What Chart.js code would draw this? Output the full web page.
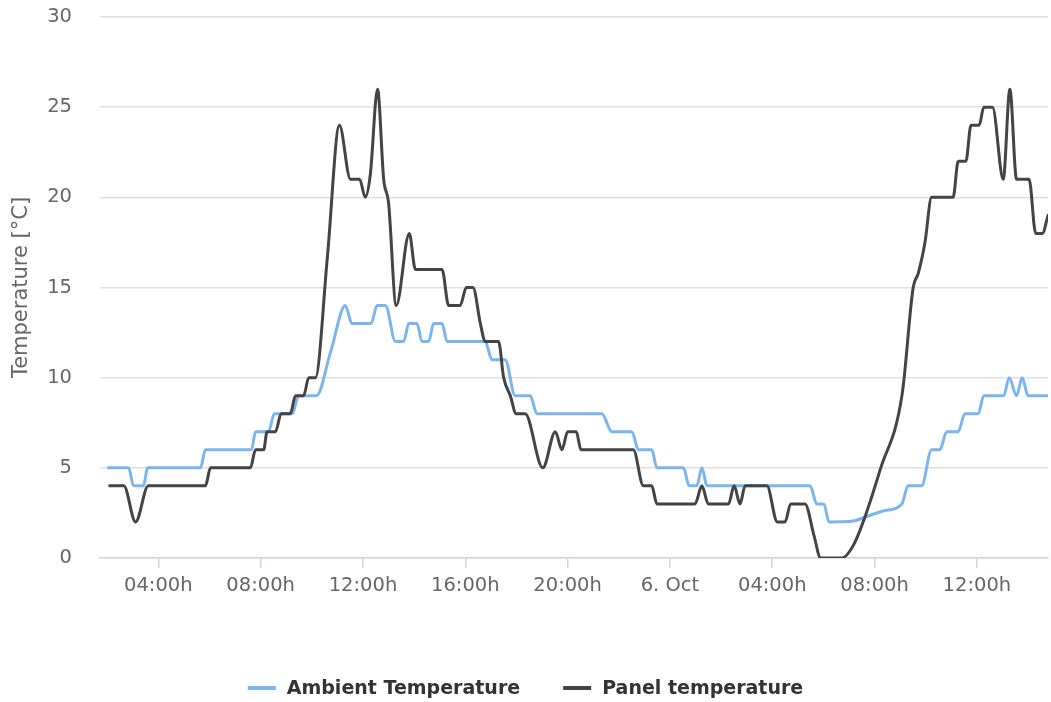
<!DOCTYPE html>
<html>
<head>
<meta charset="utf-8">
<title>Ambient and panel temperature</title>
<script src="https://cdn.jsdelivr.net/npm/chart.js@4.4.1/dist/chart.umd.min.js"></script>
<style>
  html, body { margin: 0; padding: 0; background: #fff; }
  #wrap { width: 1051px; height: 702px; position: relative; }
</style>
</head>
<body>
<div id="wrap"><canvas id="tempChart"></canvas></div>
<script>
// times are hours counted from 5 Oct 00:00
const ambientTimes = [2.05, 2.84, 3.03, 3.42, 3.58, 5.65, 5.84, 7.64, 7.80, 8.30,
  8.54, 9.24, 9.48, 10.18, 10.75, 11.31, 11.57, 12.32, 12.55, 12.88,
  13.27, 13.59, 13.79, 14.11, 14.31, 14.57, 14.76, 15.09, 15.29, 16.78,
  17.04, 17.56, 17.95, 18.54, 18.80, 21.34, 21.73, 22.51, 22.77, 23.29,
  23.49, 24.53, 24.75, 25.05, 25.25, 25.45, 29.48, 29.74, 30.02, 30.22,
  31.16, 31.69, 32.37, 33.07, 33.31, 33.84, 34.23, 34.55, 34.82, 35.27,
  35.53, 36.05, 36.27, 37.05, 37.26, 37.55, 37.77, 38.00, 38.78];
const ambientValues = [5, 5, 4, 4, 5, 5, 6, 6, 7, 7,
  8, 8, 9, 9, 11.5, 14, 13, 13, 14, 14,
  12, 12, 13, 13, 12, 12, 13, 13, 12, 12,
  11, 11, 9, 9, 8, 8, 7, 7, 6, 6,
  5, 5, 4, 4, 5, 4, 4, 3, 3, 2,
  2.05, 2.3, 2.62, 3, 4, 4, 6, 6, 7, 7,
  8, 8, 9, 9, 10, 9, 10, 9, 9];

const panelTimes = [2.10, 2.65, 3.11, 3.61, 5.84, 6.04, 7.60, 7.80, 8.12, 8.25,
  8.58, 8.80, 9.16, 9.36, 9.68, 9.88, 10.14, 10.61, 11.08, 11.51,
  11.87, 12.09, 12.29, 12.57, 12.81, 13.00, 13.30, 13.81, 14.05, 15.09,
  15.35, 15.80, 16.04, 16.30, 16.59, 16.78, 17.30, 17.50, 17.76, 17.99,
  18.34, 19.03, 19.52, 19.78, 20.00, 20.34, 20.52, 22.57, 22.96, 23.29,
  23.49, 24.98, 25.25, 25.50, 26.29, 26.51, 26.74, 26.94, 27.79, 28.20,
  28.50, 28.72, 29.28, 29.64, 29.89, 30.72, 31.17, 31.63, 32.22, 33.08,
  33.51, 33.71, 33.97, 34.23, 35.07, 35.27, 35.57, 35.77, 36.09, 36.27,
  36.61, 37.03, 37.29, 37.55, 38.04, 38.30, 38.56, 38.78];
const panelValues = [4, 4, 2, 4, 4, 5, 5, 6, 6, 7,
  7, 8, 8, 9, 9, 10, 10, 16.7, 24, 21,
  21, 20, 21.3, 26, 21, 19.7, 14, 18, 16, 16,
  14, 14, 15, 15, 13, 12, 12, 10, 9, 8,
  8, 5, 7, 6, 7, 7, 6, 6, 4, 4,
  3, 3, 4, 3, 3, 4, 3, 4, 4, 2,
  2, 3, 3, 1.2, 0, 0, 0.7, 2.3, 4.9, 9.1,
  15, 15.8, 17.5, 20, 20, 22, 22, 24, 24, 25,
  25, 21, 26, 21, 21, 18, 18, 19];

const xTickHours = [4, 8, 12, 16, 20, 24, 28, 32, 36];
const xTickLabels = ['04:00h', '08:00h', '12:00h', '16:00h', '20:00h', '6. Oct', '04:00h', '08:00h', '12:00h'];

function toPoints(times, values) {
  return times.map((t, i) => ({ x: t, y: values[i] }));
}

// series legend centred under the plot
const bottomLegend = {
  id: 'bottomLegend',
  afterDraw(chart) {
    const ctx = chart.ctx;
    const items = chart.data.datasets.map(ds => ({ text: ds.label, color: ds.borderColor }));
    const lineLen = 28, gap = 11, spacing = 43, y = 688;
    ctx.save();
    ctx.font = 'bold 19px "DejaVu Sans"';
    let total = 0;
    items.forEach((it, i) => {
      it.w = ctx.measureText(it.text).width;
      total += lineLen + gap + it.w + (i ? spacing : 0);
    });
    let x = (chart.width - total) / 2;
    items.forEach(it => {
      ctx.strokeStyle = it.color;
      ctx.lineWidth = 4;
      ctx.beginPath();
      ctx.moveTo(x, y);
      ctx.lineTo(x + lineLen, y);
      ctx.stroke();
      x += lineLen + gap;
      ctx.fillStyle = '#333333';
      ctx.textBaseline = 'alphabetic';
      ctx.fillText(it.text, x, y + 6);
      x += it.w + spacing;
    });
    ctx.restore();
  }
};

Chart.defaults.font.family = '"DejaVu Sans", sans-serif';

new Chart(document.getElementById('tempChart'), {
  type: 'line',
  data: {
    datasets: [
      {
        label: 'Ambient Temperature',
        data: toPoints(ambientTimes, ambientValues),
        borderColor: '#7cb5ec',
        backgroundColor: '#7cb5ec',
        borderWidth: 3,
        order: 1
      },
      {
        label: 'Panel temperature',
        data: toPoints(panelTimes, panelValues),
        borderColor: '#434348',
        backgroundColor: '#434348',
        borderWidth: 3,
        order: 0
      }
    ]
  },
  options: {
    responsive: true,
    maintainAspectRatio: false,
    animation: false,
    layout: { padding: { top: 17, right: 3, left: 0, bottom: 0 } },
    elements: {
      point: { radius: 0 },
      line: { cubicInterpolationMode: 'monotone', borderJoinStyle: 'round', borderCapStyle: 'round' }
    },
    plugins: {
      legend: { display: false },
      tooltip: { enabled: false }
    },
    scales: {
      x: {
        type: 'linear',
        min: 1.72,
        max: 38.78,
        afterFit: s => { s.height = 144; s.paddingLeft = 0; s.paddingRight = 0; },
        afterBuildTicks: s => { s.ticks = xTickHours.map(v => ({ value: v })); },
        grid: { drawOnChartArea: false, color: '#ccd6eb', tickLength: 10, lineWidth: 1.5 },
        border: { color: '#ccd6eb', width: 1.5 },
        ticks: {
          padding: 6,
          color: '#666666',
          font: { size: 19.5 },
          maxRotation: 0,
          autoSkip: false,
          callback: v => xTickLabels[xTickHours.indexOf(v)]
        }
      },
      y: {
        min: 0,
        max: 30,
        afterFit: s => { s.width = 100; s.paddingTop = 0; s.paddingBottom = 0; },
        ticks: { stepSize: 5, padding: 28, color: '#666666', font: { size: 19.5 } },
        grid: { color: '#e0e0e0', lineWidth: 1.5, drawTicks: false },
        border: { display: false },
        title: {
          display: true,
          text: 'Temperature [°C]',
          color: '#666666',
          font: { size: 21 },
          padding: { top: 9, bottom: 0 }
        }
      }
    }
  },
  plugins: [bottomLegend]
});
</script>
</body>
</html>
